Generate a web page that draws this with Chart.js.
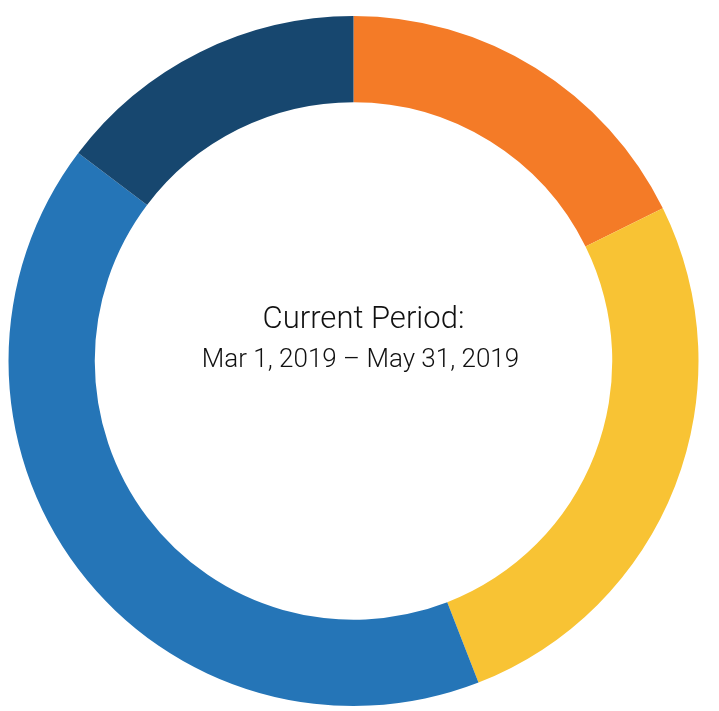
<!DOCTYPE html>
<html>
<head>
<meta charset="utf-8">
<script src="https://cdn.jsdelivr.net/npm/chart.js@4"></script>
<style>
html,body{margin:0;padding:0;background:#fff;}
#wrap{width:719px;height:711px;position:relative;}
</style>
</head>
<body>
<div id="wrap"><canvas id="c" width="719" height="711"></canvas></div>
<script>
const categories = ["Category A", "Category B", "Category C", "Category D"];
const values = [17.7, 26.4, 41.2, 14.7];
const colors = ["#F47B27", "#F8C334", "#2575B7", "#17476F"];
const centerTitle = "Current Period:";
const centerSubtitle = "Mar 1, 2019 \u2013 May 31, 2019";

const centerText = {
  id: "centerText",
  afterDraw(chart) {
    const meta = chart.getDatasetMeta(0);
    if (!meta.data.length) return;
    const arc = meta.data[0];
    const ctx = chart.ctx;
    ctx.save();
    ctx.fillStyle = "#111111";
    ctx.textAlign = "center";
    ctx.textBaseline = "alphabetic";
    ctx.font = "300 31px Roboto";
    ctx.fillText(centerTitle, arc.x + 10, arc.y - 33);
    ctx.font = "300 26px Roboto";
    ctx.fillText(centerSubtitle, arc.x + 7, arc.y + 6);
    ctx.restore();
  }
};

new Chart(document.getElementById("c"), {
  type: "doughnut",
  data: {
    labels: categories,
    datasets: [{
      data: values,
      backgroundColor: colors,
      borderWidth: 0
    }]
  },
  options: {
    responsive: false,
    animation: false,
    cutout: "75%",
    layout: { padding: { top: 16, bottom: 5, left: 8, right: 20 } },
    plugins: { legend: { display: false }, tooltip: { enabled: false } }
  },
  plugins: [centerText]
});
</script>
</body>
</html>
